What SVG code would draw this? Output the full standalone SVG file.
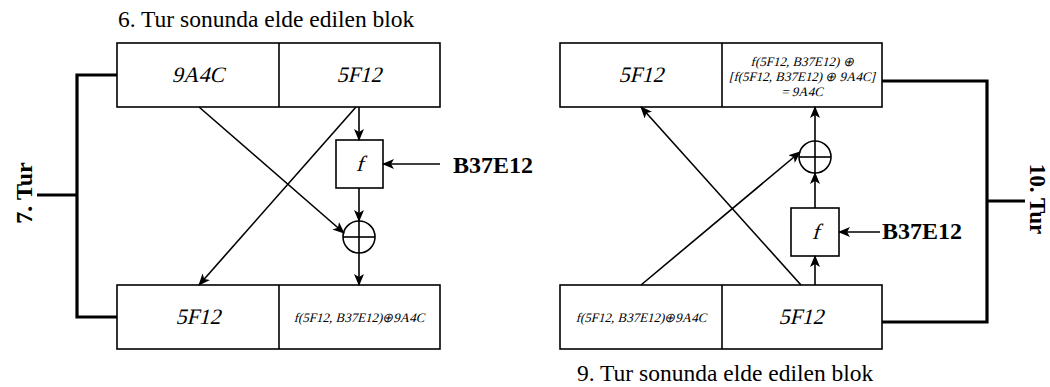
<svg xmlns="http://www.w3.org/2000/svg" width="1050" height="387" viewBox="0 0 1050 387">
<style>
.box{fill:#fff;stroke:#000;stroke-width:1.6}
.ln{fill:none;stroke:#000;stroke-width:1.6}
.thick{fill:none;stroke:#000;stroke-width:3.2}
.conn{fill:none;stroke:#000;stroke-width:1.6;marker-end:url(#ah)}
.t{font-family:"Liberation Serif","Times New Roman",serif;fill:#000}
.big{font-size:22px}
.sm{font-size:13px}
.bold{font-weight:bold;font-size:24px}
.ttl{font-size:23.5px}
</style>
<defs>
<marker id="ah" viewBox="0 0 12 10" refX="11" refY="5" markerWidth="12" markerHeight="10" markerUnits="userSpaceOnUse" orient="auto">
<path d="M0,0 L12,5 L0,10 L3,5 z" fill="#000"/>
</marker>
</defs>
<rect width="1050" height="387" fill="#fff"/>

<text class="t ttl" x="118" y="27">6. Tur sonunda elde edilen blok</text>
<text class="t ttl" x="577" y="381">9. Tur sonunda elde edilen blok</text>

<g id="left-top">
<rect class="box" x="117" y="43" width="323" height="64"/>
<line class="ln" x1="279" y1="43" x2="279" y2="107"/>
<g transform="translate(198,82) skewX(-14)"><text class="t big" text-anchor="middle">9A4C</text></g>
<g transform="translate(359,82) skewX(-14)"><text class="t big" text-anchor="middle">5F12</text></g>
</g>
<g id="left-bottom">
<rect class="box" x="117" y="285" width="323" height="64"/>
<line class="ln" x1="279" y1="285" x2="279" y2="349"/>
<g transform="translate(198,324) skewX(-14)"><text class="t big" text-anchor="middle">5F12</text></g>
<g transform="translate(359,322) skewX(-14)"><text class="t sm" text-anchor="middle">f(5F12, B37E12)⊕9A4C</text></g>
</g>
<g id="left-f">
<rect class="box" x="336" y="140" width="47" height="48"/>
<g transform="translate(359.5,171) skewX(-16)"><text class="t big" text-anchor="middle">f</text></g>
</g>
<g id="left-xor">
<circle class="ln" cx="359" cy="237" r="16"/>
<line class="ln" x1="343" y1="237" x2="375" y2="237"/>
<line class="ln" x1="359" y1="221" x2="359" y2="253"/>
</g>
<g id="left-key"><text class="t bold" x="453" y="173">B37E12</text></g>
<g id="left-round"><text class="t bold" transform="translate(32,193) rotate(-90)" text-anchor="middle">7. Tur</text></g>

<g id="right-top">
<rect class="box" x="560" y="43" width="322" height="64"/>
<line class="ln" x1="722" y1="43" x2="722" y2="107"/>
<g transform="translate(641,82) skewX(-14)"><text class="t big" text-anchor="middle">5F12</text></g>
<g transform="translate(802,66) skewX(-14)"><text class="t sm" text-anchor="middle">f(5F12, B37E12) ⊕</text></g>
<g transform="translate(802,81) skewX(-14)"><text class="t sm" text-anchor="middle">[f(5F12, B37E12) ⊕ 9A4C]</text></g>
<g transform="translate(802,96) skewX(-14)"><text class="t sm" text-anchor="middle">= 9A4C</text></g>
</g>
<g id="right-bottom">
<rect class="box" x="560" y="285" width="322" height="64"/>
<line class="ln" x1="722" y1="285" x2="722" y2="349"/>
<g transform="translate(641,322) skewX(-14)"><text class="t sm" text-anchor="middle">f(5F12, B37E12)⊕9A4C</text></g>
<g transform="translate(801,324) skewX(-14)"><text class="t big" text-anchor="middle">5F12</text></g>
</g>
<g id="right-f">
<rect class="box" x="791" y="208" width="48" height="48"/>
<g transform="translate(815.5,239) skewX(-16)"><text class="t big" text-anchor="middle">f</text></g>
</g>
<g id="right-xor">
<circle class="ln" cx="815" cy="157" r="16"/>
<line class="ln" x1="799" y1="157" x2="831" y2="157"/>
<line class="ln" x1="815" y1="141" x2="815" y2="173"/>
</g>
<g id="right-key"><text class="t bold" x="882" y="239">B37E12</text></g>
<g id="right-round"><text class="t bold" transform="translate(1030,199) rotate(90)" text-anchor="middle" style="font-size:23px">10. Tur</text></g>

<g id="connectors">
<path class="thick" d="M117,75 H77 V317 H117 M77,195 H37"/>
<path class="thick" d="M882,81 H987 V322 H882 M987,201 H1025"/>
<line class="conn" x1="359" y1="107" x2="359" y2="140"/>
<line class="conn" x1="440" y1="164" x2="383" y2="164"/>
<line class="conn" x1="359" y1="188" x2="359" y2="221"/>
<line class="conn" x1="359" y1="253" x2="359" y2="285"/>
<line class="conn" x1="199" y1="107" x2="344" y2="233"/>
<line class="conn" x1="356" y1="107" x2="199" y2="285"/>
<line class="conn" x1="815" y1="285" x2="815" y2="256"/>
<line class="conn" x1="815" y1="208" x2="815" y2="173"/>
<line class="conn" x1="815" y1="141" x2="815" y2="107"/>
<line class="conn" x1="880" y1="232" x2="839" y2="232"/>
<line class="conn" x1="641" y1="285" x2="800" y2="152"/>
<line class="conn" x1="801" y1="285" x2="641" y2="107"/>
</g>
</svg>
